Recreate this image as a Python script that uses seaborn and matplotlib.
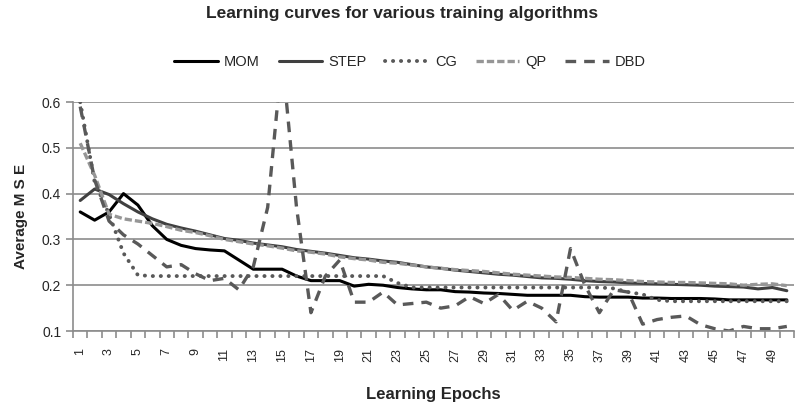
import numpy as np
import pandas as pd
import matplotlib
matplotlib.use('Agg')
import matplotlib.pyplot as plt
import seaborn as sns
from matplotlib.ticker import MultipleLocator, FixedLocator, NullFormatter

# Valeurs (MSE moyenne par époque)
epochs = list(range(1, 51))

mom = [0.360, 0.342, 0.360, 0.400, 0.375, 0.330, 0.300, 0.287, 0.280, 0.277,
       0.275, 0.255, 0.235, 0.235, 0.235, 0.220, 0.210, 0.210, 0.210, 0.198,
       0.202, 0.200, 0.195, 0.192, 0.190, 0.190, 0.186, 0.185, 0.183, 0.182,
       0.180, 0.178, 0.178, 0.178, 0.178, 0.175, 0.174, 0.174, 0.174, 0.172,
       0.172, 0.171, 0.171, 0.171, 0.170, 0.168, 0.168, 0.168, 0.168, 0.168]

step = [0.385, 0.410, 0.398, 0.378, 0.360, 0.345, 0.333, 0.325, 0.318, 0.310,
        0.302, 0.298, 0.292, 0.288, 0.284, 0.278, 0.274, 0.270, 0.265, 0.260,
        0.257, 0.253, 0.250, 0.245, 0.240, 0.237, 0.233, 0.230, 0.227, 0.224,
        0.222, 0.219, 0.216, 0.215, 0.213, 0.210, 0.208, 0.207, 0.205, 0.204,
        0.203, 0.202, 0.201, 0.200, 0.198, 0.197, 0.196, 0.192, 0.195, 0.188]

cg = [0.600, 0.425, 0.355, 0.270, 0.222, 0.220, 0.220, 0.220, 0.220, 0.220,
      0.220, 0.220, 0.220, 0.220, 0.220, 0.220, 0.220, 0.220, 0.220, 0.220,
      0.220, 0.220, 0.205, 0.195, 0.195, 0.195, 0.195, 0.195, 0.195, 0.195,
      0.195, 0.195, 0.195, 0.195, 0.195, 0.195, 0.195, 0.193, 0.185, 0.180,
      0.168, 0.165, 0.165, 0.165, 0.165, 0.165, 0.165, 0.165, 0.165, 0.165]

qp = [0.510, 0.440, 0.355, 0.345, 0.340, 0.335, 0.328, 0.320, 0.315, 0.308,
      0.300, 0.295, 0.290, 0.286, 0.281, 0.275, 0.272, 0.268, 0.262, 0.258,
      0.255, 0.250, 0.248, 0.244, 0.240, 0.237, 0.234, 0.232, 0.230, 0.227,
      0.224, 0.222, 0.220, 0.218, 0.217, 0.215, 0.213, 0.212, 0.210, 0.208,
      0.207, 0.206, 0.206, 0.205, 0.204, 0.203, 0.200, 0.202, 0.203, 0.199]

dbd = [0.590, 0.430, 0.340, 0.310, 0.290, 0.265, 0.240, 0.245, 0.225, 0.210,
       0.215, 0.190, 0.240, 0.370, 0.700, 0.370, 0.140, 0.220, 0.255, 0.163,
       0.163, 0.185, 0.157, 0.160, 0.163, 0.150, 0.155, 0.175, 0.160, 0.180,
       0.145, 0.165, 0.150, 0.120, 0.280, 0.200, 0.140, 0.190, 0.185, 0.115,
       0.125, 0.130, 0.133, 0.114, 0.105, 0.100, 0.110, 0.105, 0.105, 0.110]

series = {'MOM': mom, 'STEP': step, 'CG': cg, 'QP': qp, 'DBD': dbd}

styles = {
    'MOM':  dict(color='#000000', linestyle='-', linewidth=2.2),
    'STEP': dict(color='#404040', linestyle='-', linewidth=2.2),
    'CG':   dict(color='#595959', linestyle=(0, (0.05, 2.0)), linewidth=2.8,
                 dash_capstyle='round'),
    'QP':   dict(color='#969696', linestyle=(0, (2.2, 0.9)), linewidth=2.4),
    'DBD':  dict(color='#595959', linestyle=(0, (3.2, 2.4)), linewidth=2.4),
}

sns.set_style('white')
plt.rcParams['font.family'] = ['Liberation Sans', 'DejaVu Sans']

fig = plt.figure(figsize=(8.04, 4.11), dpi=100)
ax = fig.add_axes([0.0908, 0.1946, 0.8968, 0.5572])

for name, vals in series.items():
    sns.lineplot(x=epochs, y=vals, ax=ax, label=name, **styles[name])

ax.set_xlim(0.5, 50.5)
ax.set_ylim(0.1, 0.6)
ax.yaxis.set_major_locator(MultipleLocator(0.1))
ax.set_yticklabels([f'{v:.1f}' for v in ax.get_yticks()])
ax.grid(axis='y', color='#8c8c8c', linewidth=1.2)
ax.set_axisbelow(True)

# graduations entre catégories, étiquettes une sur deux
ax.xaxis.set_major_locator(FixedLocator(epochs[::2]))
ax.xaxis.set_minor_locator(FixedLocator(np.arange(0.5, 51, 1)))
ax.xaxis.set_minor_formatter(NullFormatter())
ax.tick_params(axis='x', which='major', length=0, labelsize=9, rotation=90, pad=12)
ax.tick_params(axis='x', which='minor', length=5, color='#8c8c8c', width=1.2, direction='out')
ax.tick_params(axis='y', which='major', length=5, color='#8c8c8c', width=1.2,
               direction='out', labelsize=10)
ax.tick_params(bottom=True, left=True, which='both')

for side in ['top', 'right']:
    ax.spines[side].set_visible(False)
for side in ['left', 'bottom']:
    ax.spines[side].set_color('#8c8c8c')
    ax.spines[side].set_linewidth(1.2)

ax.set_xlabel('Learning Epochs', fontsize=12, fontweight='bold', labelpad=18)
ax.set_ylabel('Average M S E', fontsize=11, fontweight='bold', labelpad=10)

fig.suptitle('Learning curves for various training algorithms', x=0.5, y=0.985,
             fontsize=12.5, fontweight='bold', va='top')

ax.legend(loc='center', bbox_to_anchor=(0.51, 0.849), bbox_transform=fig.transFigure,
          ncol=5, frameon=False, fontsize=10.5, handlelength=3.0, columnspacing=1.3,
          handletextpad=0.4)

plt.savefig('out.png', dpi=100)
